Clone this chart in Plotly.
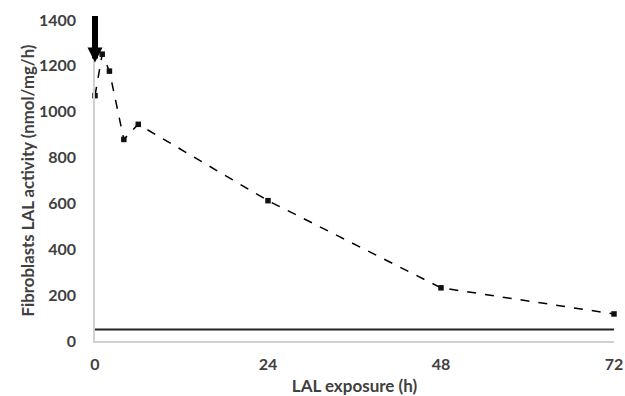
import plotly.graph_objects as go

hours = [0, 1, 2, 4, 6, 24, 48, 72]
activity = [1070, 1251, 1177, 879, 945, 612, 232, 118]
baseline_x = [0, 72]
baseline_y = [50, 50]
x_ticks = [0, 24, 48, 72]
y_ticks = [0, 200, 400, 600, 800, 1000, 1200, 1400]
arrow_y = 1215

font_family = "Lato, 'Open Sans', sans-serif"
text_color = "#404040"

fig = go.Figure()
fig.add_trace(go.Scatter(
    x=baseline_x, y=baseline_y, mode="lines",
    line=dict(color="#222222", width=2), cliponaxis=False, hoverinfo="skip",
))
fig.add_trace(go.Scatter(
    x=hours, y=activity, mode="lines+markers",
    line=dict(color="black", width=1.5, dash="dash"),
    marker=dict(symbol="square", size=5.5, color="#111111"),
    cliponaxis=False,
))
fig.add_annotation(
    x=0, y=arrow_y, xref="x", yref="y", text="", showarrow=True,
    ax=0, ay=-48, axref="pixel", ayref="pixel",
    arrowhead=2, arrowsize=0.5, arrowwidth=6, arrowcolor="black", standoff=0,
)

fig.update_layout(
    width=625, height=396,
    margin=dict(l=95, r=11, t=20, b=55),
    paper_bgcolor="white", plot_bgcolor="white",
    showlegend=False,
    font=dict(family=font_family, color=text_color),
)
fig.update_xaxes(
    range=[0, 72], tickvals=x_ticks, ticktext=[str(v) for v in x_ticks],
    showgrid=False, zeroline=False, showline=True, linecolor="#d0d0d0", linewidth=1.5,
    ticks="", ticklabelstandoff=8, automargin=False,
    tickfont=dict(size=16, family=font_family, color=text_color, weight="bold"),
    title=dict(text="<b>LAL exposure (h)</b>", font=dict(size=17, color=text_color), standoff=25),
)
fig.update_yaxes(
    range=[0, 1400], tickvals=y_ticks, ticktext=[str(v) for v in y_ticks],
    showgrid=False, zeroline=False, showline=True, linecolor="#d0d0d0", linewidth=1.5,
    ticks="", ticklabelstandoff=14, automargin=False,
    tickfont=dict(size=16, family=font_family, color=text_color, weight="bold"),
    title=dict(text="<b>Fibroblasts LAL activity (nmol/mg/h)</b>", font=dict(size=16.8, color=text_color), standoff=0),
)

fig.write_html(
    "out.html",
    config={"displayModeBar": False},
    post_script="document.body.style.margin='0';document.body.style.overflow='hidden';",
)
